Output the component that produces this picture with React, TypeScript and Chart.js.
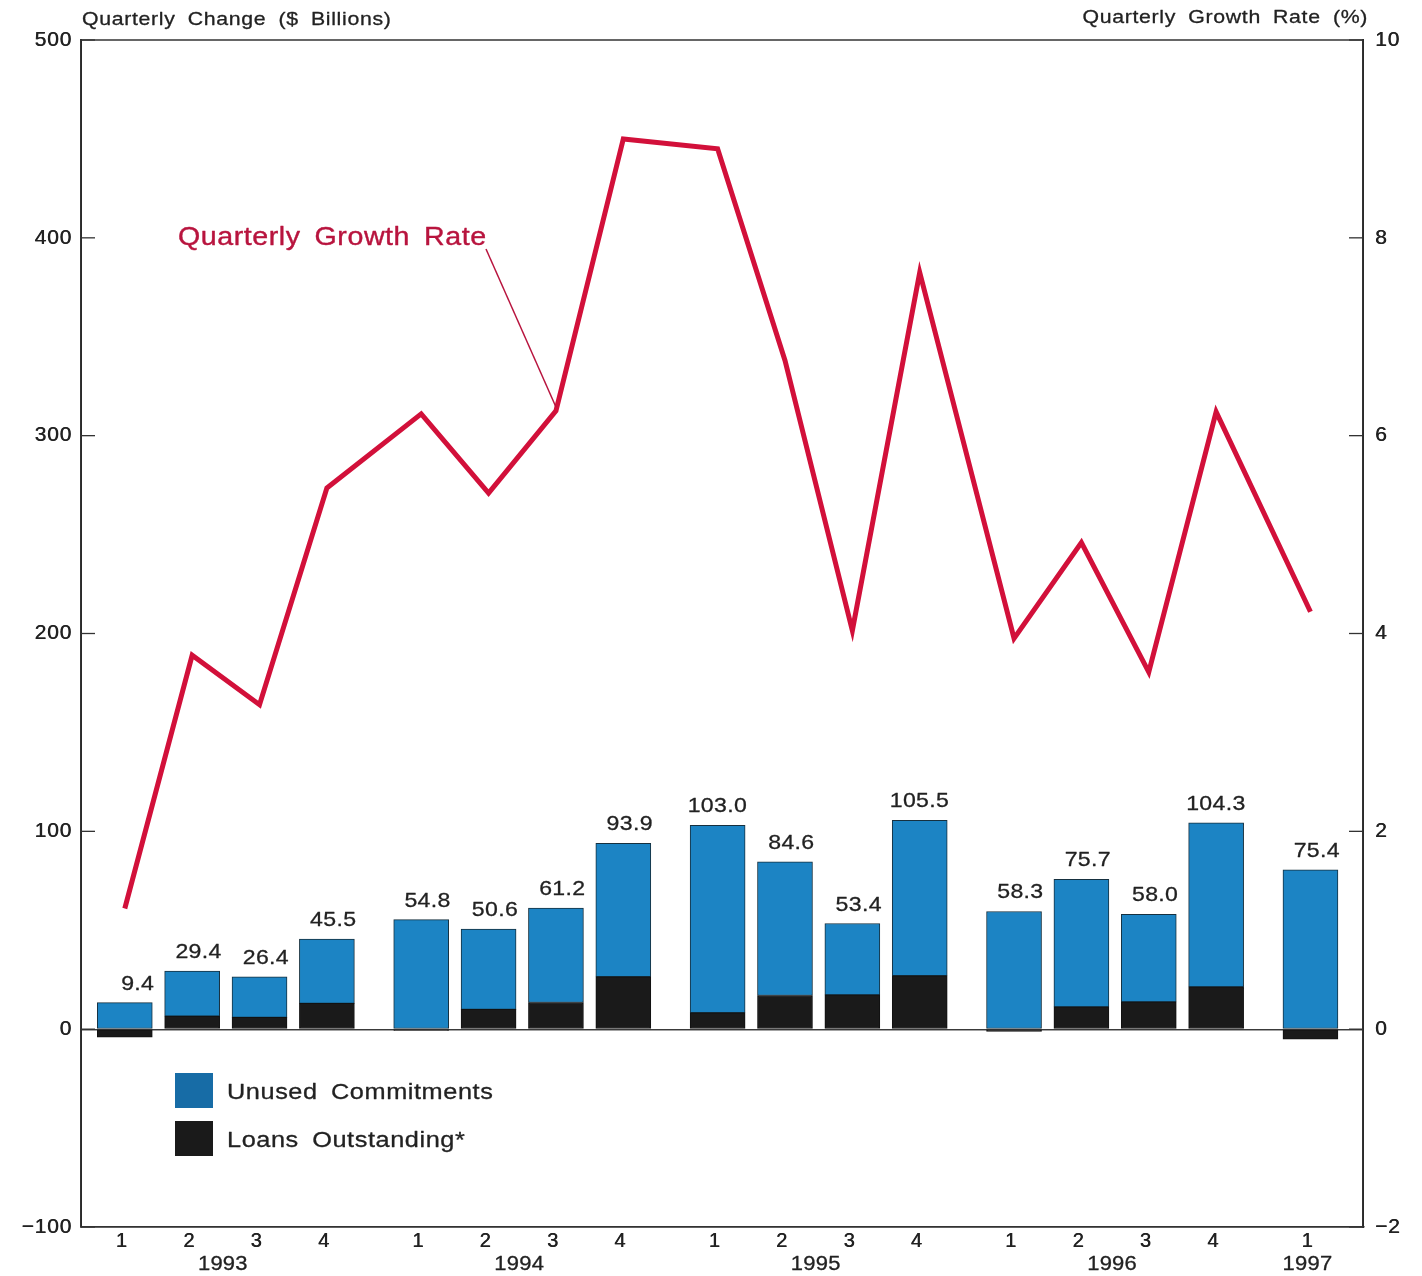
import React, { useEffect, useRef } from "react";
import { Chart, registerables } from "chart.js";

Chart.register(...registerables);

// ---------- data ----------
const quarterLabels = ["1", "2", "3", "4", "1", "2", "3", "4", "1", "2", "3", "4", "1", "2", "3", "4", "1"];
const quarterYears = ["1993", "1993", "1993", "1993", "1994", "1994", "1994", "1994", "1995", "1995", "1995", "1995", "1996", "1996", "1996", "1996", "1997"];
const yearLabels = ["1993", "1994", "1995", "1996", "1997"];

// $ billions
const loansOutstanding = [-4.0, 6.6, 6.0, 13.0, -0.6, 10.0, 13.5, 26.5, 8.3, 17.0, 17.3, 27.0, -1.2, 11.3, 13.8, 21.4, -5.1];
const unusedCommitments = [13.4, 22.8, 20.4, 32.5, 55.4, 40.6, 47.7, 67.4, 94.7, 67.6, 36.1, 78.5, 59.5, 64.4, 44.2, 82.9, 80.5];
// percent
const growthRate = [1.22, 3.78, 3.28, 5.47, 6.22, 5.42, 6.25, 9.0, 8.9, 6.76, 4.03, 7.65, 3.95, 4.92, 3.61, 6.24, 4.22];

const leftTicks = [-100, 0, 100, 200, 300, 400, 500];
const rightTicks = [-2, 0, 2, 4, 6, 8, 10];

// ---------- style ----------
const FONT = '"Liberation Sans", Arial, Helvetica, sans-serif';
const TEXT = "#222222";
const AXIS = "#333333";
const BLUE = "#1c84c4";
const LEGEND_BLUE = "#176ca6";
const BLACK = "#1a1a1a";
const RED = "#d2103a";
const RED_TEXT = "#b8143e";
const YEAR_GAP = 0.4;

const yearIndex = quarterYears.map((y) => yearLabels.indexOf(y));
const xs = quarterLabels.map((_, i) => i + YEAR_GAP * yearIndex[i]);

function fmtMinus(v: number) {
  return v < 0 ? "\u2212" + Math.abs(v) : String(v);
}

function drawText(
  ctx: CanvasRenderingContext2D,
  text: string,
  x: number,
  y: number,
  o: { size: number; color: string; align?: CanvasTextAlign; ls?: number; ws?: number; sx?: number; bold?: number }
) {
  const bold = o.bold ?? 0.3;
  ctx.save();
  ctx.translate(x, y);
  ctx.scale(o.sx || 1, 1);
  ctx.font = `${o.size}px ${FONT}`;
  ctx.fillStyle = o.color;
  ctx.strokeStyle = o.color;
  ctx.lineWidth = bold;
  ctx.lineJoin = "round";
  ctx.textAlign = o.align || "left";
  ctx.textBaseline = "alphabetic";
  (ctx as any).letterSpacing = `${o.ls || 0}px`;
  (ctx as any).wordSpacing = `${o.ws || 0}px`;
  ctx.fillText(text, 0, 0);
  if (bold > 0) ctx.strokeText(text, 0, 0);
  ctx.restore();
}

const overlayPlugin = {
  id: "overlay",
  beforeDraw(chart: any) {
    const ctx = chart.ctx;
    (ctx as any).letterSpacing = "0.8px";
    ctx.shadowColor = TEXT;
    ctx.shadowBlur = 0;
    ctx.shadowOffsetX = 0.5;
    ctx.shadowOffsetY = 0;
  },
  beforeDatasetsDraw(chart: any) {
    const ctx = chart.ctx;
    (ctx as any).letterSpacing = "0px";
    ctx.shadowColor = "rgba(0,0,0,0)";
    ctx.shadowOffsetX = 0;
  },
  afterDraw(chart: any) {
    const ctx: CanvasRenderingContext2D = chart.ctx;
    (ctx as any).letterSpacing = "0px";
    ctx.shadowColor = "rgba(0,0,0,0)";
    ctx.shadowOffsetX = 0;
    const ca = chart.chartArea;
    const yL = chart.scales.y;
    const yR = chart.scales.yR;
    const xS = chart.scales.x;

    // top border
    ctx.save();
    ctx.strokeStyle = AXIS;
    ctx.lineWidth = 1.5;
    ctx.beginPath();
    ctx.moveTo(ca.left, ca.top);
    ctx.lineTo(ca.right, ca.top);
    ctx.stroke();

    // inward tick marks
    ctx.lineWidth = 1.3;
    leftTicks.forEach((v) => {
      const p = yL.getPixelForValue(v);
      ctx.beginPath();
      ctx.moveTo(ca.left, p);
      ctx.lineTo(ca.left + 14, p);
      ctx.stroke();
    });
    rightTicks.forEach((v) => {
      const p = yR.getPixelForValue(v);
      ctx.beginPath();
      ctx.moveTo(ca.right, p);
      ctx.lineTo(ca.right - 14, p);
      ctx.stroke();
    });
    ctx.restore();

    // axis titles
    drawText(ctx, "Quarterly Change ($ Billions)", ca.left + 1, 25, { size: 19, color: TEXT, ls: 0.6, ws: 5, sx: 1.12 });
    drawText(ctx, "Quarterly Growth Rate (%)", ca.right + 5, 23, { size: 19, color: TEXT, ls: 0.6, ws: 5, sx: 1.12, align: "right" });

    // year labels
    yearLabels.forEach((yl) => {
      const idx = quarterYears.map((q, i) => (q === yl ? i : -1)).filter((i) => i >= 0);
      let center: number;
      if (idx.length >= 3) {
        center = (xS.getPixelForValue(xs[idx[1]]) + xS.getPixelForValue(xs[idx[2]])) / 2;
      } else {
        center = xS.getPixelForValue(xs[idx[0]]);
      }
      drawText(ctx, yl, center - 3, 1270, { size: 20, color: TEXT, ls: 0.2, sx: 1.1, align: "center" });
    });

    // bar total labels
    const metaUnused = chart.getDatasetMeta(2);
    metaUnused.data.forEach((el: any, i: number) => {
      const total = (unusedCommitments[i] + loansOutstanding[i]).toFixed(1);
      const right = el.x + el.width / 2 + 2;
      drawText(ctx, total, right, el.y - 13, { size: 21, color: TEXT, ls: 0.3, sx: 1.1, align: "right" });
    });

    // legend
    const lx = ca.left + 94;
    ctx.save();
    ctx.fillStyle = LEGEND_BLUE;
    ctx.fillRect(lx, 1073, 38, 35);
    ctx.fillStyle = BLACK;
    ctx.fillRect(lx, 1121, 38, 35);
    ctx.restore();
    drawText(ctx, "Unused Commitments", lx + 52, 1099, { size: 22, color: TEXT, ls: 0.5, ws: 5, sx: 1.15 });
    drawText(ctx, "Loans Outstanding*", lx + 52, 1147, { size: 22, color: TEXT, ls: 0.5, ws: 5, sx: 1.15 });

    // growth-rate annotation
    drawText(ctx, "Quarterly Growth Rate", 178, 245, { size: 26, color: RED_TEXT, ls: 0.5, ws: 5, sx: 1.1, bold: 0.4 });
    const lineMeta = chart.getDatasetMeta(0);
    const target = lineMeta.data[6];
    if (target) {
      ctx.save();
      ctx.strokeStyle = RED_TEXT;
      ctx.lineWidth = 1.5;
      ctx.beginPath();
      ctx.moveTo(486, 249);
      ctx.lineTo(target.x, target.y - 4);
      ctx.stroke();
      ctx.restore();
    }
  },
};

export default function App() {
  const canvasRef = useRef<HTMLCanvasElement | null>(null);

  useEffect(() => {
    if (!canvasRef.current) return;
    const chart = new Chart(canvasRef.current, {
      type: "bar",
      data: {
        datasets: [
          {
            type: "line",
            label: "Quarterly Growth Rate",
            data: xs.map((x, i) => ({ x, y: growthRate[i] })),
            yAxisID: "yR",
            borderColor: RED,
            backgroundColor: RED,
            borderWidth: 5,
            pointRadius: 0,
            tension: 0,
            borderJoinStyle: "miter",
            borderCapStyle: "butt",
            order: 0,
          } as any,
          {
            type: "bar",
            label: "Loans Outstanding*",
            data: xs.map((x, i) => ({ x, y: loansOutstanding[i] })),
            yAxisID: "y",
            backgroundColor: BLACK,
            borderColor: "#111111",
            borderWidth: 1,
            borderSkipped: false,
            barThickness: 55,
            stack: "s",
            order: 1,
          } as any,
          {
            type: "bar",
            label: "Unused Commitments",
            data: xs.map((x, i) => ({ x, y: unusedCommitments[i] })),
            yAxisID: "y",
            backgroundColor: BLUE,
            borderColor: "#16303f",
            borderWidth: 1,
            borderSkipped: false,
            barThickness: 55,
            stack: "s",
            order: 1,
          } as any,
        ],
      },
      options: {
        responsive: false,
        animation: false,
        events: [],
        layout: { padding: { top: 40, left: 0, right: 0, bottom: 0 } },
        plugins: {
          legend: { display: false },
          tooltip: { enabled: false },
          title: { display: false },
        },
        scales: {
          x: {
            type: "linear",
            offset: false,
            min: -0.65,
            max: 18.38,
            grid: { display: false, drawTicks: false },
            border: { display: true, color: AXIS, width: 1.5 },
            afterBuildTicks: (scale: any) => {
              scale.ticks = xs.map((v) => ({ value: v }));
            },
            afterFit: (scale: any) => {
              scale.height = 49;
            },
            ticks: {
              autoSkip: false,
              maxRotation: 0,
              minRotation: 0,
              padding: 2,
              labelOffset: -3,
              color: TEXT,
              font: { family: FONT, size: 20 },
              callback: (_v: any, i: number) => quarterLabels[i],
            },
          },
          y: {
            type: "linear",
            position: "left",
            min: -100,
            max: 500,
            stacked: true,
            afterBuildTicks: (scale: any) => {
              scale.ticks = leftTicks.map((v) => ({ value: v }));
            },
            afterFit: (scale: any) => {
              scale.width = 81;
            },
            grid: {
              drawTicks: false,
              color: (c: any) => (c.tick && c.tick.value === 0 ? "#3a3a3a" : "rgba(0,0,0,0)"),
              lineWidth: 1.3,
            },
            border: { display: true, color: AXIS, width: 1.5 },
            ticks: {
              padding: 9,
              color: TEXT,
              font: { family: FONT, size: 21 },
              callback: (v: any) => fmtMinus(Number(v)),
            },
          },
          yR: {
            type: "linear",
            position: "right",
            min: -2,
            max: 10,
            afterBuildTicks: (scale: any) => {
              scale.ticks = rightTicks.map((v) => ({ value: v }));
            },
            afterFit: (scale: any) => {
              scale.width = 59;
            },
            grid: { display: false, drawTicks: false },
            border: { display: true, color: AXIS, width: 1.5 },
            ticks: {
              padding: 12,
              color: TEXT,
              font: { family: FONT, size: 21 },
              callback: (v: any) => fmtMinus(Number(v)),
            },
          },
        },
      } as any,
      plugins: [overlayPlugin],
    });
    return () => chart.destroy();
  }, []);

  return (
    <div style={{ position: "absolute", left: 0, top: 0, width: 1422, height: 1276, background: "#ffffff" }}>
      <canvas ref={canvasRef} width={1422} height={1276} style={{ display: "block" }} />
    </div>
  );
}
